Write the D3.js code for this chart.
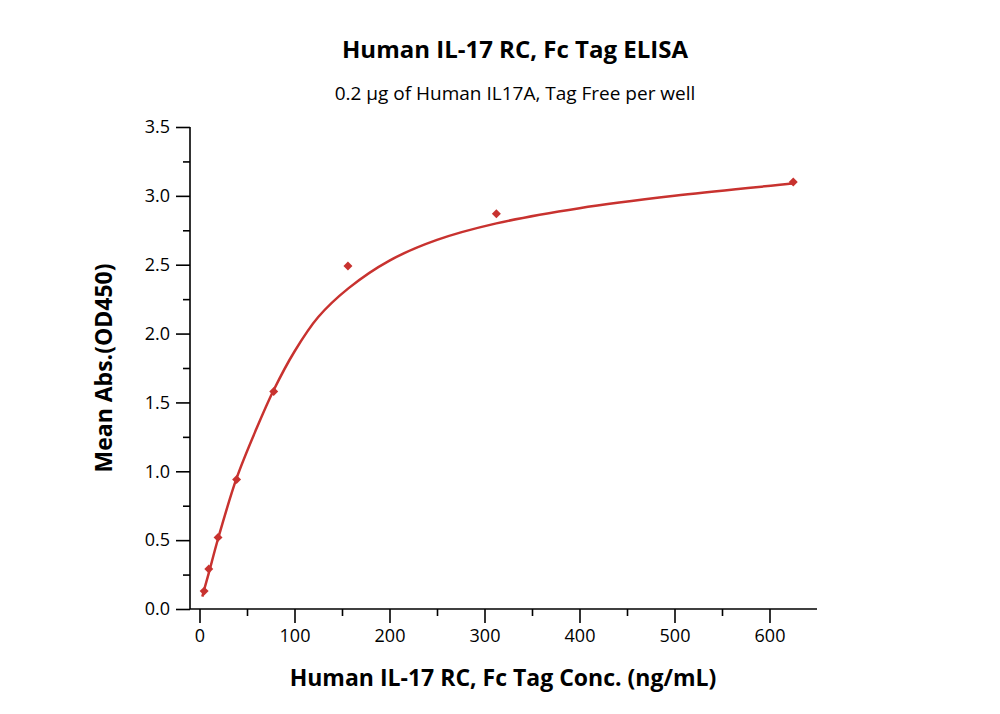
<!DOCTYPE html>
<html><head><meta charset="utf-8">
<script src="https://cdn.jsdelivr.net/npm/d3@7"></script>
<style>body{margin:0;background:#fff}</style></head>
<body><svg id="c" width="1000" height="714"></svg>
<script>
const concX = [4.88, 9.77, 19.53, 39.06, 78.13, 156.25, 312.5, 625];
const absY = [0.13, 0.29, 0.52, 0.94, 1.58, 2.49, 2.87, 3.10];
const fitX = [3, 4.88, 9.77, 19.53, 39.06, 60, 78.13, 100, 125, 157, 200, 250, 312.5, 400, 500, 625];
const fitY = [0.09, 0.14, 0.26, 0.51, 0.95, 1.31, 1.59, 1.87, 2.12, 2.33, 2.53, 2.68, 2.80, 2.91, 3.00, 3.09];
const xTicks = [0, 100, 200, 300, 400, 500, 600];
const yTicks = [0, 0.5, 1.0, 1.5, 2.0, 2.5, 3.0, 3.5];

const svg = d3.select("#c");
const font = "'Open Sans', sans-serif";
const x = d3.scaleLinear().domain([-10, 650]).range([190, 817]);
const y = d3.scaleLinear().domain([0, 3.5]).range([609, 127]);
const red = "#c8322f";

const xa = svg.append("g").attr("transform", "translate(0,609)")
  .call(d3.axisBottom(x).tickValues(xTicks).tickSize(14).tickPadding(6).tickFormat(d3.format("d")));
const xm = svg.append("g").attr("transform", "translate(0,609)")
  .call(d3.axisBottom(x).tickValues(d3.range(50, 650, 100)).tickSize(7).tickFormat(""));
const ya = svg.append("g").attr("transform", "translate(190,0)")
  .call(d3.axisLeft(y).tickValues(yTicks).tickSize(14).tickPadding(6).tickFormat(d3.format(".1f")));
const ym = svg.append("g").attr("transform", "translate(190,0)")
  .call(d3.axisLeft(y).tickValues(d3.range(0.25, 3.5, 0.5)).tickSize(7).tickFormat(""));
[xa, xm, ya, ym].forEach(g => {
  g.selectAll("path,line").attr("stroke", "#000").attr("stroke-width", 1.6);
  g.selectAll("text").attr("font-family", font).attr("font-size", 18).attr("fill", "#000");
});
xm.select("path").remove(); ym.select("path").remove();
xa.select("path").attr("d", "M190,0H817");
ya.select("path").attr("d", "M0,609V127");

const line = d3.line().x((d, i) => x(fitX[i])).y(d => y(d)).curve(d3.curveCatmullRom.alpha(0.5));
svg.append("path").attr("d", line(fitY)).attr("fill", "none").attr("stroke", red).attr("stroke-width", 2.5);

svg.selectAll(".pt").data(absY).enter().append("path")
  .attr("transform", (d, i) => `translate(${x(concX[i])},${y(d)}) rotate(45)`)
  .attr("d", d3.symbol(d3.symbolSquare, 40)).attr("fill", red);

svg.append("text").attr("x", 515).attr("y", 58).attr("text-anchor", "middle")
  .attr("font-family", font).attr("font-weight", "bold").attr("font-size", 24).text("Human IL-17 RC, Fc Tag ELISA");
svg.append("text").attr("x", 515).attr("y", 100).attr("text-anchor", "middle")
  .attr("font-family", font).attr("font-size", 19).text("0.2 μg of Human IL17A, Tag Free per well");
svg.append("text").attr("x", 503).attr("y", 686).attr("text-anchor", "middle")
  .attr("font-family", font).attr("font-weight", "bold").attr("font-size", 23).text("Human IL-17 RC, Fc Tag Conc. (ng/mL)");
svg.append("text").attr("transform", "translate(112,368) rotate(-90)").attr("text-anchor", "middle")
  .attr("font-family", font).attr("font-weight", "bold").attr("font-size", 23).text("Mean Abs.(OD450)");
</script></body></html>
